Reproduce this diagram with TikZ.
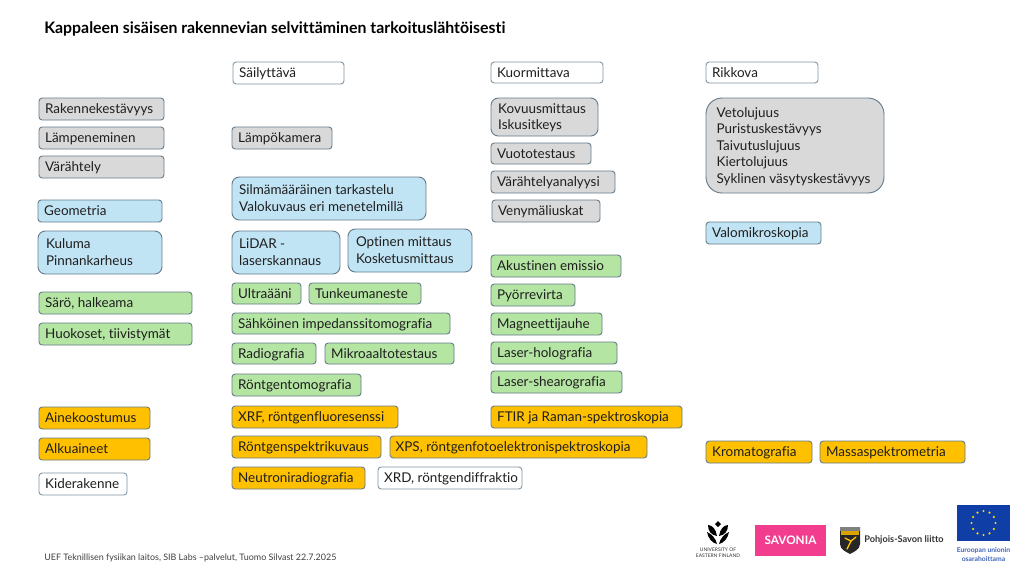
\documentclass[tikz,border=0pt]{standalone}
\usepackage{fontspec}
\usetikzlibrary{calc}
\setmainfont[Ligatures=CommonOff]{Lato}
\definecolor{bd}{HTML}{667C8C}
\definecolor{bdw}{HTML}{7F95A5}
\definecolor{cgray}{HTML}{D9D9D9}
\definecolor{cblue}{HTML}{C1E4F5}
\definecolor{cgreen}{HTML}{B4E5A2}
\definecolor{corange}{HTML}{FFC000}
\definecolor{txt}{HTML}{1F1F1F}
\definecolor{pinkc}{HTML}{F23D8E}
\definecolor{euB}{HTML}{0F3FA6}
\definecolor{euY}{HTML}{FFD500}
\tikzset{
  x=0.75pt,y=-0.75pt,
  box/.style={draw=bd,line width=0.7pt,rounded corners=2.4pt,anchor=north west,outer sep=0pt,inner xsep=0pt,inner ysep=0pt,text=txt,font=\fontsize{10.1}{12.4}\selectfont},
  sgray/.style={fill=cgray}, sblue/.style={fill=cblue}, sgreen/.style={fill=cgreen},
  sorange/.style={fill=corange}, swhite/.style={fill=white,draw=bdw},
  big/.style={rounded corners=5.5pt},
  huge/.style={rounded corners=12pt},
  plain/.style={anchor=west,inner sep=0pt,text=txt}
}
% name, style, left text gap (pt), x0,y0,x1,y1, text
\newcommand{\bx}[8]{%
  \pgfmathsetlengthmacro{\bw}{(#6-#4)*0.75pt}%
  \pgfmathsetlengthmacro{\bh}{(#7-#5)*0.75pt}%
  \node[box,#2,minimum width=\bw,minimum height=\bh] (#1) at (#4,#5) {\vbox{\kern2pt\hbox to \bw{\kern#3pt\begin{tabular}{@{}l@{}}#8\end{tabular}\hss}}};%
}
\begin{document}
\begin{tikzpicture}
\useasboundingbox (0,0) rectangle (1024,576);
\fill[white] (0,0) rectangle (1024,576);
\node[plain,font=\bfseries\fontsize{11.9}{13}\selectfont,text=black] (title) at (44,29) {Kappaleen sisäisen rakennevian selvittäminen tarkoituslähtöisesti};
% column 1
\bx{a1}{sgray}{4.6}{39}{98}{164}{120}{Rakennekestävyys}
\bx{a2}{sgray}{4.6}{39}{127}{164}{149}{Lämpeneminen}
\bx{a3}{sgray}{4.6}{39}{156}{164}{178}{Värähtely}
\bx{a4}{sblue}{4.6}{38}{200}{162}{222}{Geometria}
\bx{a5}{sblue,big}{6}{38}{231}{162}{274}{Kuluma\\Pinnankarheus}
\bx{a6}{sgreen}{4.6}{39}{292}{192}{314}{Särö, halkeama}
\bx{a7}{sgreen}{4.6}{39}{323}{192}{345}{Huokoset, tiivistymät}
\bx{a8}{sorange}{4.6}{39}{407}{150}{429}{Ainekoostumus}
\bx{a9}{sorange}{4.6}{39}{438}{150}{460}{Alkuaineet}
\bx{a10}{swhite}{4.6}{39}{473}{127}{495}{Kiderakenne}
% column 2
\bx{b1}{swhite}{4.6}{233}{62}{344}{84}{Säilyttävä}
\bx{b2}{sgray}{4.6}{232}{127}{332}{149}{Lämpökamera}
\bx{b3}{sblue,big}{5.4}{232}{177}{426}{220}{Silmämääräinen tarkastelu\\Valokuvaus eri menetelmillä}
\bx{b4}{sblue,big}{5.4}{232}{231}{340}{274}{LiDAR -\\laserskannaus}
\bx{b5}{sblue,big}{6}{348}{229}{472}{272}{Optinen mittaus\\Kosketusmittaus}
\bx{b6}{sgreen}{4.6}{232}{283}{301}{304}{Ultraääni}
\bx{b7}{sgreen}{4.6}{309}{283}{421}{304}{Tunkeumaneste}
\bx{b8}{sgreen}{4.6}{232}{313}{450}{334}{Sähköinen impedanssitomografia}
\bx{b9}{sgreen}{4.6}{232}{343}{316}{364}{Radiografia}
\bx{b10}{sgreen}{4.6}{325}{343}{454}{364}{Mikroaaltotestaus}
\bx{b11}{sgreen}{4.6}{232}{374}{361}{396}{Röntgentomografia}
\bx{b12}{sorange}{4.6}{232}{406}{398}{428}{XRF, röntgenfluoresenssi}
\bx{b13}{sorange}{4.6}{232}{436}{381}{458}{Röntgenspektrikuvaus}
\bx{b14}{sorange}{4.2}{390}{436}{647}{458}{XPS, röntgenfotoelektronispektroskopia}
\bx{b15}{sorange}{4.6}{232}{467}{365}{489}{Neutroniradiografia}
\bx{b16}{swhite}{4.6}{378}{467}{522}{489}{XRD, röntgendiffraktio}
% column 3
\bx{c1}{swhite}{4.6}{491}{62}{603}{83}{Kuormittava}
\bx{c2}{sgray,big}{5.4}{491}{98}{598}{136}{Kovuusmittaus\\Iskusitkeys}
\bx{c3}{sgray}{4.6}{491}{143}{591}{164}{Vuototestaus}
\bx{c4}{sgray}{4.6}{491}{171}{615}{193}{Värähtelyanalyysi}
\bx{c5}{sgray}{4.6}{492}{200}{600}{222}{Venymäliuskat}
\bx{c6}{sgreen}{4.6}{491}{255}{621}{277}{Akustinen emissio}
\bx{c7}{sgreen}{4.6}{491}{284}{575}{306}{Pyörrevirta}
\bx{c8}{sgreen}{4.6}{491}{313}{602}{335}{Magneettijauhe}
\bx{c9}{sgreen}{4.6}{491}{342}{617}{364}{Laser-holografia}
\bx{c10}{sgreen}{4.6}{491}{371}{622}{393}{Laser-shearografia}
\bx{c11}{sorange}{4.6}{491}{406}{682}{428}{FTIR ja Raman-spektroskopia}
% column 4
\bx{d1}{swhite}{4.6}{706}{62}{818}{83}{Rikkova}
\bx{d2}{sgray,huge}{8}{706}{98}{884}{193}{Vetolujuus\\Puristuskestävyys\\Taivutuslujuus\\Kiertolujuus\\Syklinen väsytyskestävyys}
\bx{d3}{sblue}{4.6}{706}{222}{821}{244}{Valomikroskopia}
\bx{d4}{sorange}{4.6}{706}{441}{812}{463}{Kromatografia}
\bx{d5}{sorange}{4.6}{820}{441}{965}{463}{Massaspektrometria}
% footer
\node[plain,font=\fontsize{6.7}{8}\selectfont,text=black!75] (foot) at (44,558) {UEF Teknillisen fysiikan laitos, SIB Labs –palvelut, Tuomo Silvast 22.7.2025};
% UEF logo
\fill[black] (718,521) -- (721,524) -- (718,527) -- (715,524) -- cycle;
\fill[black] (708,525) .. controls (712,525) and (716,529) .. (717,536) .. controls (711,535) and (708,531) .. (708,525) -- cycle;
\fill[black] (728,525) .. controls (724,525) and (720,529) .. (719,536) .. controls (725,535) and (728,531) .. (728,525) -- cycle;
\fill[black] (707,532) .. controls (708,538) and (712,543) .. (717,544) .. controls (716,539) and (712,534) .. (707,532) -- cycle;
\fill[black] (729,532) .. controls (728,538) and (724,543) .. (719,544) .. controls (720,539) and (724,534) .. (729,532) -- cycle;
\node[font=\fontsize{3.7}{4.6}\selectfont,align=center,text=black!80,inner sep=0pt] (uef) at (718,553) {UNIVERSITY OF\\EASTERN FINLAND};
% Savonia logo
\node[fill=pinkc,minimum width=53.25pt,minimum height=23.25pt,inner sep=0pt,text=white,font=\bfseries\fontsize{8.8}{10}\selectfont] (sav) at (790.5,540.5) {SAVONIA};
% Pohjois-Savon
\fill[black!85] (840,527) -- (860,527) -- (860,544) .. controls (860,550) and (853,552) .. (850,554) .. controls (847,552) and (840,550) .. (840,544) -- cycle;
\fill[black!50] (840,527) rectangle (860,531);
\fill[corange!85!black] (841,531) rectangle (859,535);
\draw[corange,line width=1pt,line cap=round] (845,538) -- (851,541) -- (856,537) (851,541) -- (847,549);
\node[plain,font=\bfseries\fontsize{6.9}{9}\selectfont,text=black!80] (psl) at (864,540) {Pohjois-Savon liitto};
% EU flag
\node[fill=euB,minimum width=40pt,minimum height=27pt,inner sep=0pt] (eu) at (983.5,523) {};
\foreach \a in {0,30,...,330} \fill[euY] ($(eu.center)+(\a:12)$) circle[radius=1.2];
\node[font=\bfseries\fontsize{5.1}{6.9}\selectfont,align=center,text=euB!80!white,inner sep=0pt] (eut) at (983.5,554.5) {Euroopan unionin\\osarahoittama};
\end{tikzpicture}
\end{document}
